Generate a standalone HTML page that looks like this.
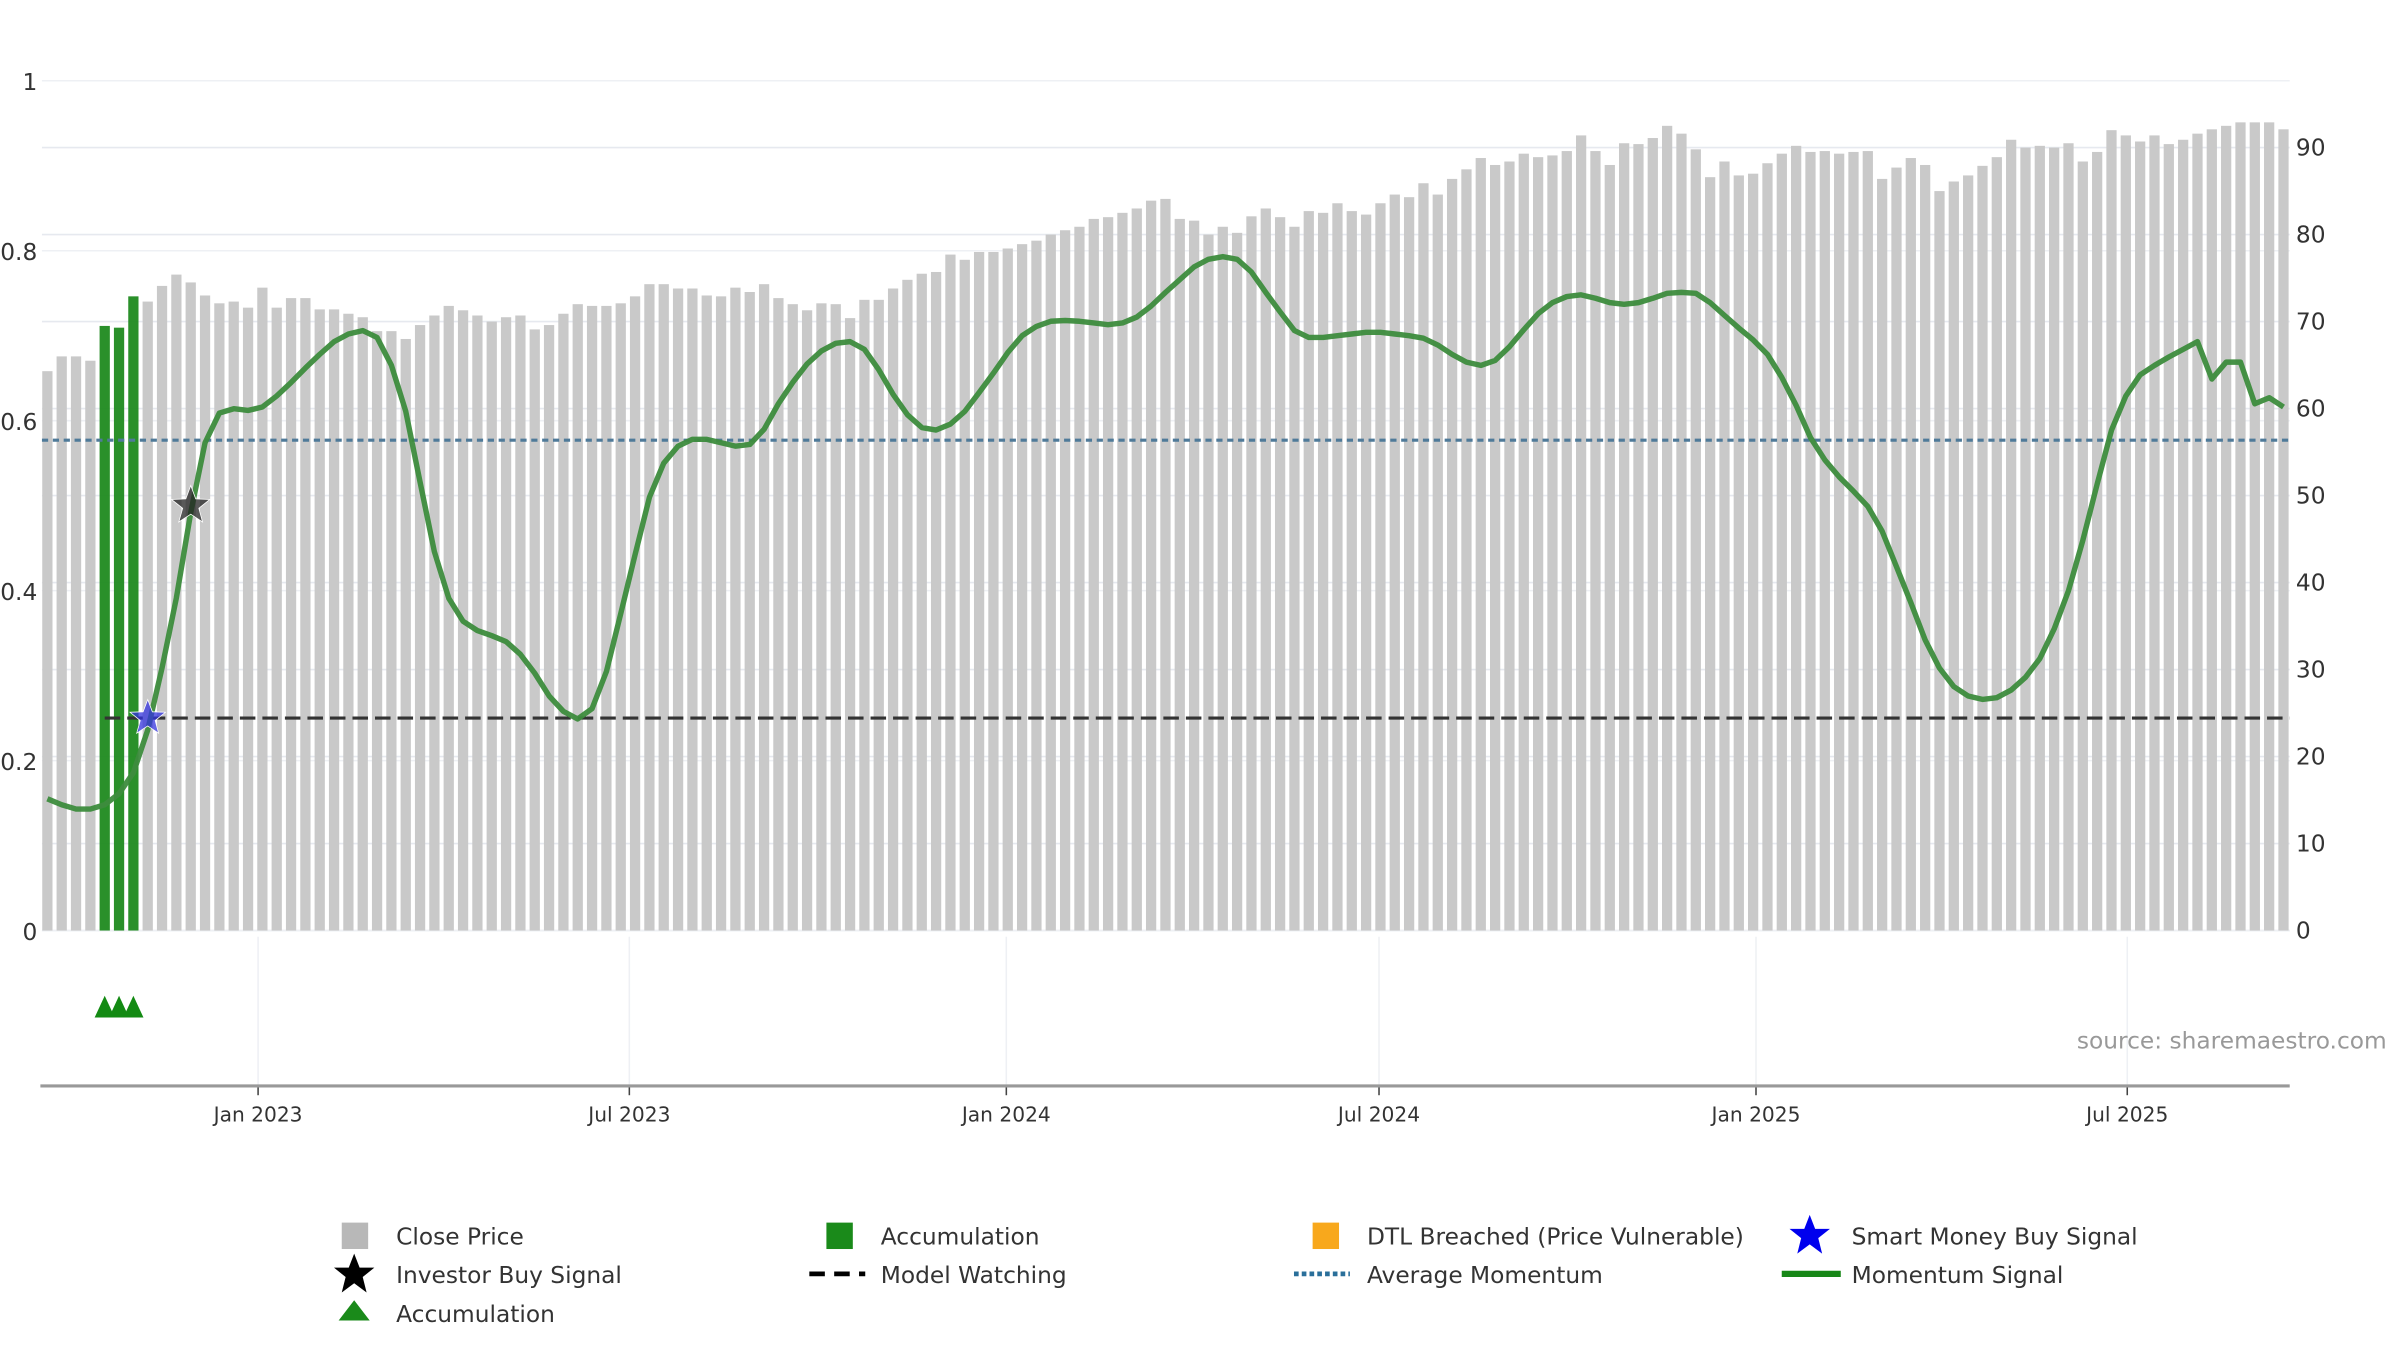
<!DOCTYPE html>
<html><head><meta charset="utf-8"><title>Momentum chart</title>
<style>html,body{margin:0;padding:0;background:#fff;}svg{display:block;font-family:"DejaVu Sans","Liberation Sans",sans-serif;}</style>
</head><body>
<svg id="chart" width="2400" height="1350" viewBox="0 0 1545 869" preserveAspectRatio="none" xmlns="http://www.w3.org/2000/svg">
<g id="grid"></g>
<g id="bars"></g>
<g id="lines"></g>
<g id="markers"></g>
<g id="axes"></g>
<text x="1337" y="675" font-size="15" fill="#999">source: sharemaestro.com</text>
<g id="legend" font-size="15" fill="#333">
  <g><rect x="220" y="787" width="17" height="17" fill="#b8b8b8"/><text x="255" y="801">Close Price</text></g>
  <g><rect x="532" y="787" width="17" height="17" fill="#1a8a1a"/><text x="567" y="801">Accumulation</text></g>
  <g><rect x="845" y="787" width="17" height="17" fill="#f8a81c"/><text x="880" y="801">DTL Breached (Price Vulnerable)</text></g>
  <g><polygon points="1165,782 1168.5,791 1178,791 1170.5,797 1173,807 1165,801 1157,807 1159.5,797 1152,791 1161.5,791" fill="#0000ee"/><text x="1192" y="801">Smart Money Buy Signal</text></g>
  <g><polygon points="228,807 231.5,816 241,816 233.5,822 236,832 228,826 220,832 222.5,822 215,816 224.5,816" fill="#000"/><text x="255" y="826">Investor Buy Signal</text></g>
  <g><line x1="521" y1="820" x2="557" y2="820" stroke="#000" stroke-width="3" stroke-dasharray="10,6"/><text x="567" y="826">Model Watching</text></g>
  <g><line x1="833" y1="820" x2="869" y2="820" stroke="#2a6f9a" stroke-width="3" stroke-dasharray="3,2"/><text x="880" y="826">Average Momentum</text></g>
  <g><line x1="1147" y1="820" x2="1185" y2="820" stroke="#178717" stroke-width="4"/><text x="1192" y="826">Momentum Signal</text></g>
  <g><polygon points="228,837 238,850 218,850" fill="#1a8a1a"/><text x="255" y="851">Accumulation</text></g>
</g>
</svg>
<script>
const closePrice=[64.3,66,66,65.5,69.5,69.3,72.9,72.3,74.1,75.4,74.5,73,72.1,72.3,71.6,73.9,71.6,72.7,72.7,71.4,71.4,70.9,70.5,68.9,68.9,68,69.6,70.7,71.8,71.3,70.7,70,70.5,70.7,69.1,69.6,70.9,72,71.8,71.8,72.1,72.9,74.3,74.3,73.8,73.8,73,72.9,73.9,73.4,74.3,72.7,72,71.3,72.1,72,70.4,72.5,72.5,73.8,74.8,75.5,75.7,77.7,77.1,78,78,78.4,78.9,79.3,80,80.5,80.9,81.8,82,82.5,83,83.9,84.1,81.8,81.6,80,80.9,80.2,82.1,83,82,80.9,82.7,82.5,83.6,82.7,82.3,83.6,84.6,84.3,85.9,84.6,86.4,87.5,88.8,88,88.4,89.3,88.9,89.1,89.6,91.4,89.6,88,90.5,90.4,91.1,92.5,91.6,89.8,86.6,88.4,86.8,87,88.2,89.3,90.2,89.5,89.6,89.3,89.5,89.6,86.4,87.7,88.8,88,85,86.1,86.8,87.9,88.9,90.9,90,90.2,90,90.5,88.4,89.5,92,91.4,90.7,91.4,90.4,90.9,91.6,92.1,92.5,92.9,92.9,92.9,92.1];
const momentum=[.155,.148,.143,.143,.148,.161,.186,.236,.309,.391,.492,.574,.609,.614,.612,.616,.629,.645,.662,.678,.693,.702,.706,.698,.665,.611,.528,.446,.391,.364,.353,.347,.340,.325,.303,.276,.258,.249,.261,.305,.373,.442,.510,.550,.570,.578,.578,.574,.570,.572,.590,.620,.645,.667,.682,.691,.693,.684,.660,.631,.607,.592,.589,.596,.611,.633,.656,.680,.700,.711,.717,.718,.717,.715,.713,.715,.722,.735,.751,.766,.781,.790,.793,.790,.775,.751,.728,.706,.698,.698,.700,.702,.704,.704,.702,.700,.697,.689,.678,.669,.665,.671,.687,.707,.726,.739,.746,.748,.744,.739,.737,.739,.744,.750,.751,.750,.739,.724,.709,.695,.678,.651,.618,.580,.554,.534,.517,.499,.470,.428,.386,.342,.309,.287,.276,.272,.274,.283,.298,.320,.355,.400,.459,.525,.589,.629,.654,.665,.675,.684,.693,.649,.669,.669,.620,.627,.616];
const accumulationIdx=[4,5,6];
const avgMomentum=[0.577];
const modelWatching=[0.25];
const modelStartIdx=[4];
const smartMoneyIdx=[7];
const smartMoneyVal=[0.25];
const investorIdx=[10];
const investorVal=[0.5];
const leftTicks=[0,0.2,0.4,0.6,0.8,1];
const leftTickLabels=["0","0.2","0.4","0.6","0.8","1"];
const rightTicks=[0,10,20,30,40,50,60,70,80,90];
const dateTicks=[14.7,40.6,66.9,92.9,119.2,145.1];
const dateLabels=["Jan 2023","Jul 2023","Jan 2024","Jul 2024","Jan 2025","Jul 2025"];

const NS="http://www.w3.org/2000/svg";
const X0=30.5,STEP=(1470-30.5)/156,BW=6.6;
const xs=i=>X0+i*STEP;
const yL=v=>599-v*547;
const yR=v=>599-v*5.6;
function mk(tag,attrs,parent){const e=document.createElementNS(NS,tag);for(const k in attrs)e.setAttribute(k,attrs[k]);parent.appendChild(e);return e;}
const grid=document.getElementById('grid'),bars=document.getElementById('bars'),lines=document.getElementById('lines'),markers=document.getElementById('markers'),axes=document.getElementById('axes');

rightTicks.forEach(v=>{const l=mk('line',{x1:27,x2:1474,y1:yR(v),y2:yR(v),stroke:'#e6e9ef','stroke-width':1},grid);


const t=mk('text',{x:1478,y:yR(v)+5,'font-size':15,fill:'#333'},axes);t.textContent=String(v);

});
leftTicks.forEach((v,k)=>{const l=mk('line',{x1:27,x2:1474,y1:yL(v),y2:yL(v),stroke:'#eef0f4','stroke-width':1},grid);


const t=mk('text',{x:24,y:yL(v)+6,'font-size':15,fill:'#333','text-anchor':'end'},axes);t.textContent=leftTickLabels[k];

});
dateTicks.forEach((d,k)=>{const x=xs(d);const g=mk('line',{x1:x,x2:x,y1:603,y2:699,stroke:'#eef0f4','stroke-width':1},grid);


const tk=mk('line',{x1:x,x2:x,y1:699,y2:705,stroke:'#444','stroke-width':1},axes);


const t=mk('text',{x:x,y:722,'font-size':13,fill:'#333','text-anchor':'middle'},axes);t.textContent=dateLabels[k];

});
const ax=mk('line',{x1:26,x2:1474,y1:699,y2:699,stroke:'#999','stroke-width':2},axes);



closePrice.forEach((v,i)=>{const acc=accumulationIdx.includes(i);const r=mk('rect',{x:xs(i)-BW/2,y:yR(v),width:BW,height:599-yR(v),fill:acc?'#1f8a1f':'#c9c9c9','fill-opacity':acc?0.95:1},bars);

});

const avg=mk('line',{x1:27,x2:1474,y1:yL(avgMomentum[0]),y2:yL(avgMomentum[0]),stroke:'#4f7a99','stroke-width':2,'stroke-dasharray':'4,3'},lines);


const mw=mk('line',{x1:xs(modelStartIdx[0]),x2:1474,y1:yL(modelWatching[0]),y2:yL(modelWatching[0]),stroke:'#333','stroke-width':2,'stroke-dasharray':'10,4.5'},lines);


const pts=momentum.map((v,i)=>xs(i).toFixed(1)+','+yL(v).toFixed(1)).join(' ');
const ml=mk('polyline',{points:pts,fill:'none',stroke:'#3d8c3d','stroke-width':3.5,'stroke-linejoin':'round','stroke-opacity':0.95},lines);



function star(cx,cy,R,fill,name){const p=[];for(let k=0;k<10;k++){const r=k%2?R*0.42:R;const a=-Math.PI/2+k*Math.PI/5;p.push((cx+r*Math.cos(a)).toFixed(1)+','+(cy+r*Math.sin(a)).toFixed(1));}
const s=mk('polygon',{points:p.join(' '),fill:fill,'fill-opacity':0.75,stroke:'#fff','stroke-width':0.5},markers);

}
smartMoneyIdx.forEach((i,k)=>star(xs(i),yL(smartMoneyVal[k]),12,'#3333dd','smart-money-star'));
investorIdx.forEach((i,k)=>star(xs(i),yL(investorVal[k]),13,'#222','investor-buy-star'));
accumulationIdx.forEach(i=>{const x=xs(i);const t=mk('polygon',{points:`${x},641 ${x+6.5},655 ${x-6.5},655`,fill:'#138a13'},markers);

});
</script>
</body></html>
